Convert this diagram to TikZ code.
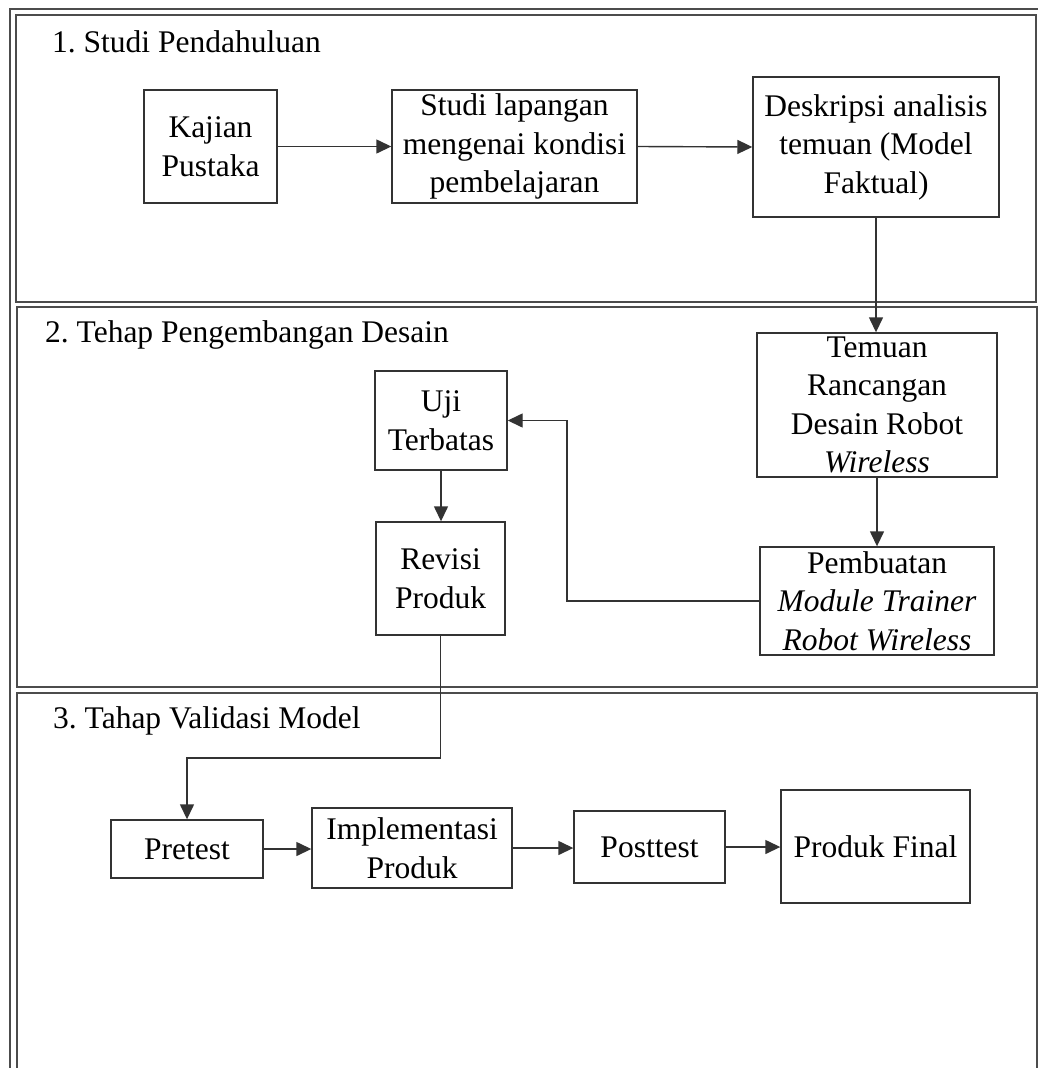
\documentclass[tikz,border=0pt]{standalone}
\usepackage{fontspec}
\setmainfont{Liberation Serif}
\usetikzlibrary{arrows.meta}
\begin{document}
\frenchspacing
\begin{tikzpicture}[x=1pt,y=-1pt,
  frame/.style={draw=black!70,line width=1.5pt},
  boxnode/.style={draw=black!80,line width=1.4pt,inner sep=0pt,align=center,
    font=\fontsize{31.5}{38.5}\selectfont},
  title/.style={anchor=base west,inner sep=0pt,font=\fontsize{31.5}{38.5}\selectfont},
  conn/.style={draw=black!80,line width=1.4pt},
  arr/.style={conn,-{Triangle[length=15pt,width=14pt]}}]
\useasboundingbox (0,0) rectangle (1038,1068);
\fill[white] (0,0) rectangle (1038,1068);
% outer border and panels
\draw[frame] (10,9) rectangle (1045,1080);
\draw[frame] (16,15) rectangle (1036,302);
\draw[frame] (17,307) rectangle (1037,687);
\draw[frame] (17,693) rectangle (1037,1080);
% titles
\node[title] (t1) at (52,52) {1. Studi Pendahuluan};
\node[title] (t2) at (45,342) {2. Tehap Pengembangan Desain};
\node[title] (t3) at (53,728) {3. Tahap Validasi Model};
% section 1
\node[boxnode,minimum width=133pt,minimum height=113pt] (kaj) at (210.5,146.5) {Kajian\\Pustaka};
\node[boxnode,minimum width=245pt,minimum height=113pt] (stu) at (514.5,146.5) {Studi lapangan\\mengenai kondisi\\pembelajaran};
\node[boxnode,minimum width=246pt,minimum height=140pt] (desk) at (876,147) {Deskripsi analisis\\temuan (Model\\Faktual)};
% section 2
\node[boxnode,minimum width=240pt,minimum height=144pt] (tem) at (877,405) {Temuan\\Rancangan\\Desain Robot\\\textit{Wireless}};
\node[boxnode,minimum width=234pt,minimum height=108pt] (pem) at (877,601) {Pembuatan\\\textit{Module Trainer}\\\textit{Robot Wireless}};
\node[boxnode,minimum width=132pt,minimum height=99pt] (uji) at (441,420.5) {Uji\\Terbatas};
\node[boxnode,minimum width=129pt,minimum height=113pt] (rev) at (440.5,578.5) {Revisi\\Produk};
% section 3
\node[boxnode,minimum width=152pt,minimum height=58pt] (pre) at (187,849) {Pretest};
\node[boxnode,minimum width=200pt,minimum height=80pt] (imp) at (412,848) {Implementasi\\Produk};
\node[boxnode,minimum width=151pt,minimum height=72pt] (post) at (649.5,847) {Posttest};
\node[boxnode,minimum width=189pt,minimum height=113pt] (fin) at (875.5,846.5) {Produk Final};
% connectors
\coordinate (bend1) at (567,420.5);
\coordinate (bend2) at (440.5,758);
\draw[arr] (kaj.east) -- (stu.west);
\draw[arr] (stu.east) -- (desk.west);
\draw[arr] (desk.south) -- (desk.south |- tem.north);
\draw[arr] (tem.south) -- (tem.south |- pem.north);
\draw[arr] (pem.west) -| (bend1) -- (uji.east);
\draw[arr] (uji.south) -- (uji.south |- rev.north);
\draw[arr] (rev.south) -- (bend2) -| (pre.north);
\draw[arr] (pre.east) -- (pre.east -| imp.west);
\draw[arr] (imp.east) -- (imp.east -| post.west);
\draw[arr] (post.east) -- (post.east -| fin.west);
\end{tikzpicture}
\end{document}
